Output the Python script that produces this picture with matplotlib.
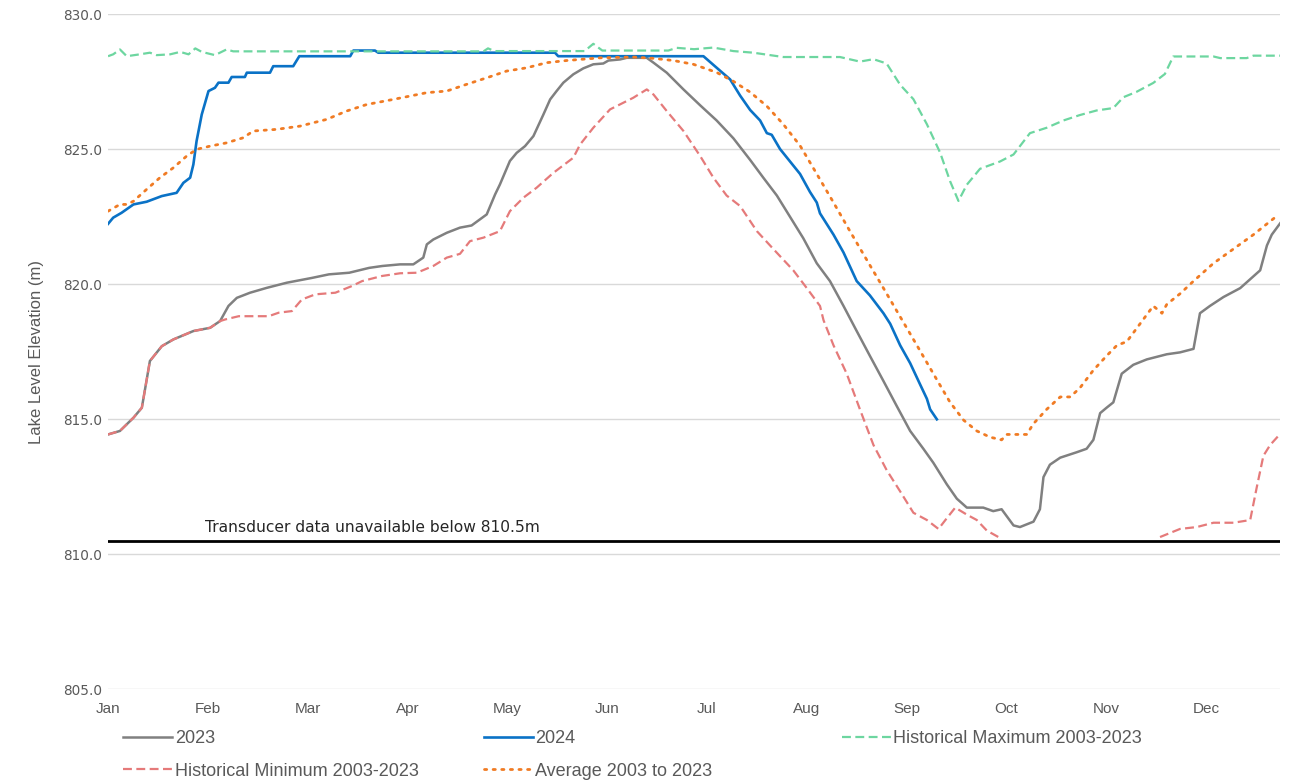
import matplotlib
matplotlib.use("Agg")
import matplotlib.pyplot as plt
import numpy as np

nan = np.nan

# day index (0 = 1 Jan) and lake level (m)
d_2023 = [0, 3.7, 7.9, 10.5, 13.0, 16.7, 20.3, 26.5, 31.7, 34.8,
          37.4, 40.0, 44.1, 49.3, 55.5, 63.4, 68.6, 74.9, 81.1, 85.2,
          90.7, 94.8, 97.9, 99.0, 101.0, 105.2, 109.3, 112.9, 117.6, 120.2,
          121.7, 124.8, 126.9, 129.5, 132.1, 135.2, 137.3, 139.3, 141.4, 144.5,
          147.6, 150.7, 153.8, 155.4, 159.0, 161.1, 167.3, 169.4, 173.5, 178.7,
          183.9, 189.0, 194.2, 199.4, 203.5, 207.7, 211.8, 215.9, 220.1, 224.2,
          228.4, 232.5, 236.6, 240.8, 244.9, 249.1, 253.2, 256.3, 260.5, 263.6,
          266.7, 271.8, 274.9, 277.5, 281.2, 283.2, 287.4, 289.4, 290.5, 292.5,
          295.7, 300.8, 303.9, 306.0, 308.1, 310.1, 312.2, 314.8, 318.4, 322.6,
          328.8, 332.9, 337.1, 339.1, 342.2, 346.4, 351.6, 354.7, 357.8, 359.9,
          361.4, 364.0]
lvl_2023 = [814.43, 814.56, 815.05, 815.42, 817.15, 817.70, 817.95, 818.26, 818.38, 818.63,
            819.19, 819.49, 819.68, 819.86, 820.05, 820.23, 820.36, 820.42, 820.60, 820.67,
            820.73, 820.73, 820.98, 821.47, 821.65, 821.90, 822.09, 822.17, 822.58, 823.32,
            823.69, 824.56, 824.86, 825.11, 825.48, 826.28, 826.84, 827.15, 827.46, 827.77,
            827.99, 828.14, 828.17, 828.28, 828.32, 828.38, 828.38, 828.20, 827.83, 827.21,
            826.62, 826.06, 825.40, 824.60, 823.94, 823.28, 822.49, 821.70, 820.77, 820.11,
            819.19, 818.26, 817.34, 816.41, 815.49, 814.56, 813.90, 813.38, 812.58, 812.05,
            811.72, 811.72, 811.59, 811.66, 811.06, 811.00, 811.20, 811.66, 812.85, 813.31,
            813.57, 813.77, 813.90, 814.23, 815.22, 815.42, 815.62, 816.68, 817.01, 817.21,
            817.40, 817.47, 817.60, 818.92, 819.19, 819.52, 819.85, 820.18, 820.51, 821.43,
            821.83, 822.25]

d_2024 = [0, 1.6, 4.2, 7.9, 12.0, 16.7, 21.3, 23.4, 25.5, 26.5,
          27.5, 29.1, 31.2, 33.2, 34.3, 37.4, 38.4, 42.5, 43.1, 50.3,
          51.3, 57.5, 59.4, 75.2, 76.2, 82.9, 83.9, 138.8, 139.8, 184.9,
          190.0, 193.2, 196.3, 199.4, 202.5, 204.6, 206.1, 208.7, 211.8, 214.9,
          218.0, 220.1, 221.1, 225.3, 228.4, 232.5, 236.6, 240.8, 242.9, 246.0,
          249.1, 252.2, 254.3, 255.3, 257.4]
lvl_2024 = [822.23, 822.46, 822.64, 822.95, 823.05, 823.26, 823.38, 823.75, 823.94, 824.43,
            825.30, 826.28, 827.15, 827.27, 827.46, 827.46, 827.67, 827.67, 827.83, 827.83,
            828.07, 828.07, 828.44, 828.44, 828.65, 828.65, 828.57, 828.57, 828.44, 828.44,
            827.91, 827.58, 826.98, 826.45, 826.06, 825.59, 825.53, 825.00, 824.54, 824.08,
            823.41, 823.02, 822.62, 821.83, 821.17, 820.11, 819.58, 818.92, 818.53, 817.73,
            817.07, 816.28, 815.75, 815.36, 814.99]

d_max = [0, 1.6, 3.7, 5.8, 9.9, 13.0, 15.1, 19.3, 22.4, 25.0,
         27.1, 29.1, 33.2, 36.8, 38.9, 116.6, 118.0, 120.0, 148.0, 150.7,
         153.5, 174.0, 176.6, 182.0, 188.0, 194.2, 200.4, 209.7, 227.3, 233.5,
         237.7, 241.8, 246.0, 250.1, 254.3, 258.4, 261.5, 264.1, 266.7, 270.8,
         277.0, 281.2, 286.3, 291.5, 296.7, 301.8, 307.0, 312.2, 315.3, 319.4,
         324.6, 328.2, 330.8, 343.3, 345.4, 353.6, 355.7, 364.0]
lvl_max = [828.44, 828.51, 828.69, 828.44, 828.51, 828.57, 828.48, 828.51, 828.60, 828.51,
           828.73, 828.60, 828.48, 828.69, 828.62, 828.62, 828.73, 828.63, 828.63, 828.90,
           828.65, 828.65, 828.75, 828.70, 828.76, 828.63, 828.57, 828.41, 828.41, 828.24,
           828.33, 828.17, 827.38, 826.85, 825.92, 824.87, 823.81, 823.08, 823.68, 824.27,
           824.54, 824.80, 825.59, 825.79, 826.06, 826.26, 826.43, 826.52, 826.92, 827.12,
           827.45, 827.78, 828.43, 828.43, 828.37, 828.37, 828.46, 828.46]

d_min = [0, 3.7, 7.9, 10.5, 13.0, 16.7, 20.3, 26.5, 31.7, 34.8,
         36.4, 40.6, 49.9, 53.0, 57.1, 60.2, 64.4, 70.6, 75.8, 78.9,
         85.1, 90.7, 95.9, 101.0, 105.2, 109.3, 112.4, 116.6, 121.7, 124.8,
         129.0, 133.1, 138.3, 144.5, 146.6, 150.7, 155.9, 163.1, 167.3, 169.4,
         173.5, 178.7, 183.9, 188.0, 192.1, 196.3, 201.5, 206.6, 212.8, 217.0,
         221.1, 222.2, 225.3, 229.4, 233.5, 237.7, 241.8, 246.0, 250.1, 254.3,
         257.9, 260.5, 263.1, 266.7, 269.8, 272.9, 276.5, 300.0, 326.7, 332.9,
         338.1, 343.3, 349.5, 354.7, 356.7, 358.8, 360.9, 363.4]
lvl_min = [814.43, 814.56, 815.05, 815.42, 817.15, 817.70, 817.95, 818.26, 818.38, 818.63,
           818.69, 818.81, 818.81, 818.94, 819.00, 819.43, 819.62, 819.68, 819.93, 820.11,
           820.30, 820.40, 820.42, 820.67, 820.98, 821.12, 821.59, 821.72, 821.96, 822.70,
           823.20, 823.57, 824.12, 824.68, 825.17, 825.79, 826.47, 826.90, 827.21, 827.02,
           826.41, 825.67, 824.74, 823.94, 823.28, 822.89, 821.96, 821.30, 820.51, 819.85,
           819.19, 818.66, 817.73, 816.68, 815.36, 814.04, 813.11, 812.32, 811.53, 811.26,
           810.93, 811.33, 811.72, 811.46, 811.26, 810.87, 810.63, nan, 810.63, 810.93,
           811.00, 811.16, 811.16, 811.26, 812.45, 813.64, 814.04, 814.37]

d_avg = [0, 3.7, 5.8, 7.9, 12.0, 16.1, 20.3, 24.4, 27.5, 31.7,
         36.8, 42.0, 45.1, 52.3, 59.6, 67.9, 74.1, 80.3, 88.6, 99.0,
         105.2, 111.4, 117.6, 123.8, 130.0, 136.2, 142.4, 152.8, 163.1, 169.4,
         175.6, 181.8, 189.0, 194.2, 199.4, 204.6, 209.7, 214.9, 220.1, 225.3,
         230.4, 235.6, 240.8, 246.0, 251.2, 256.3, 261.5, 265.7, 269.8, 273.9,
         277.5, 279.1, 285.3, 287.4, 291.5, 295.7, 298.8, 301.8, 306.0, 310.1,
         313.3, 316.4, 320.5, 324.6, 327.3, 328.8, 333.0, 337.1, 343.3, 349.5,
         355.7, 359.9, 363.4]
lvl_avg = [822.70, 822.95, 822.95, 823.07, 823.51, 823.94, 824.31, 824.74, 824.99, 825.11,
           825.23, 825.42, 825.67, 825.73, 825.85, 826.10, 826.41, 826.65, 826.84, 827.09,
           827.15, 827.40, 827.64, 827.89, 828.01, 828.20, 828.28, 828.38, 828.41, 828.36,
           828.28, 828.14, 827.84, 827.51, 827.11, 826.59, 825.92, 825.13, 824.08, 823.02,
           821.96, 820.90, 819.85, 818.79, 817.73, 816.68, 815.62, 814.96, 814.56, 814.33,
           814.23, 814.43, 814.43, 814.83, 815.36, 815.82, 815.82, 816.15, 816.81, 817.34,
           817.73, 817.87, 818.53, 819.19, 818.92, 819.25, 819.65, 820.11, 820.77, 821.30,
           821.83, 822.23, 822.56]

months = ["Jan", "Feb", "Mar", "Apr", "May", "Jun", "Jul", "Aug", "Sep", "Oct", "Nov", "Dec"]
month_ticks = [31 * i for i in range(12)]
y_ticks = [805, 810, 815, 820, 825, 830]
transducer_limit = 810.5

narrow = ["Liberation Sans Narrow", "Liberation Sans", "DejaVu Sans"]
grey_txt = "#595959"

fig = plt.figure(figsize=(12.97, 7.83), dpi=100)
ax = fig.add_axes([0.0833, 0.12, 0.9037, 0.862])

l23, = ax.plot(d_2023, lvl_2023, color="#808080", lw=1.8, label="2023")
l24, = ax.plot(d_2024, lvl_2024, color="#0A72C6", lw=1.9, label="2024")
lmax, = ax.plot(d_max, lvl_max, color="#6DD6A0", lw=1.6, ls=(0, (4, 2)),
                label="Historical Maximum 2003-2023")
lmin, = ax.plot(d_min, lvl_min, color="#E57A7A", lw=1.6, ls=(0, (4, 2)),
                label="Historical Minimum 2003-2023")
lavg, = ax.plot(d_avg, lvl_avg, color="#F07B24", lw=2.0, ls=(0, (0.8, 2.3)),
                dash_capstyle="round", label="Average 2003 to 2023")

ax.axhline(transducer_limit, color="black", lw=2)
ax.text(30, transducer_limit + 0.2, "Transducer data unavailable below 810.5m",
        fontsize=11.2, color="#262626", va="bottom")

ax.set_xlim(0, 364)
ax.set_ylim(805, 830)
ax.set_yticks(y_ticks)
ax.set_yticklabels([f"{v:.1f}" for v in y_ticks], color=grey_txt, fontsize=9.8)
ax.set_xticks(month_ticks)
ax.set_xticklabels(months, family=narrow, fontsize=11, color=grey_txt)
ax.tick_params(axis="x", length=0, pad=9)
ax.tick_params(axis="y", length=0, pad=4)
ax.grid(axis="y", color="#D9D9D9", lw=1)
ax.set_axisbelow(True)
for s in ax.spines.values():
    s.set_visible(False)
ax.set_ylabel("Lake Level Elevation (m)", family=narrow, fontsize=12, color=grey_txt, labelpad=14)

leg_kw = dict(loc="upper left", frameon=False, handlelength=2.7, handletextpad=0.15,
              labelspacing=0.85, prop={"family": narrow, "size": 13})
for hs, xpos in [([l23, lmin], 0.0825), ([l24, lavg], 0.3606), ([lmax], 0.6366)]:
    lg = fig.legend(handles=hs, bbox_to_anchor=(xpos, 0.088), **leg_kw)
    for t in lg.get_texts():
        t.set_color(grey_txt)

fig.savefig("out.png", dpi=100)
